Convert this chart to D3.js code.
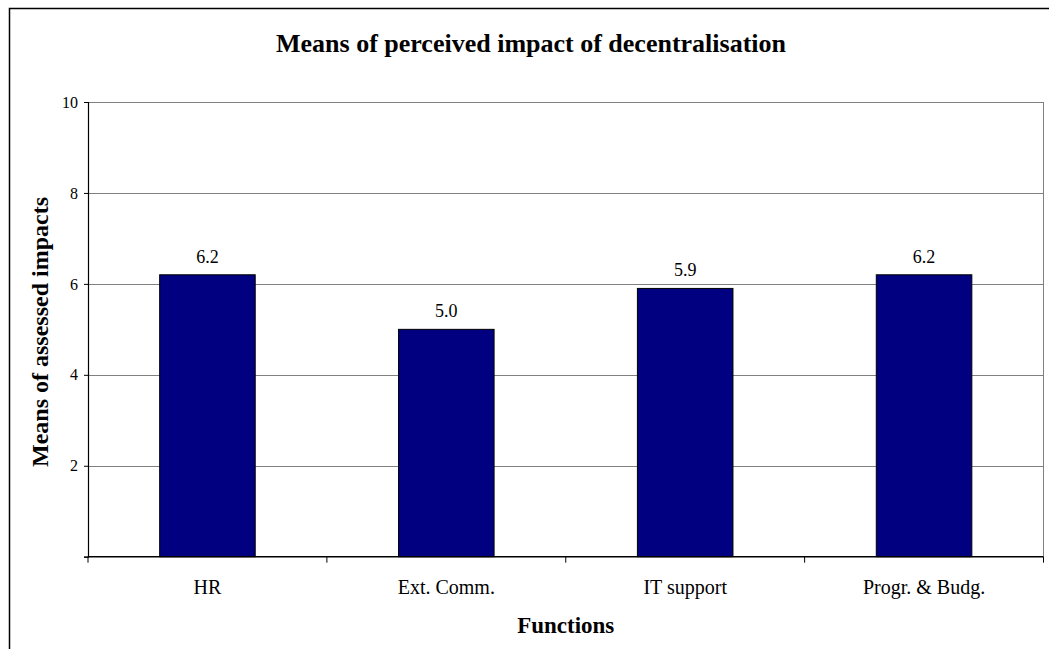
<!DOCTYPE html>
<html>
<head>
<meta charset="utf-8">
<script src="https://cdn.jsdelivr.net/npm/d3@7"></script>
<style>
  html, body { margin: 0; padding: 0; background: #fff; }
  svg { display: block; }
</style>
</head>
<body>
<svg id="chart" width="1049" height="649"></svg>
<script>
// Functions assessed and their mean perceived impact scores
const categories = ["HR", "Ext. Comm.", "IT support", "Progr. & Budg."];
const means = [6.2, 5.0, 5.9, 6.2];
const yTicks = [0, 2, 4, 6, 8, 10];

const FONT = "'Liberation Serif', 'Times New Roman', serif";
const svg = d3.select("#chart");
const W = 1049, H = 649;
const plot = { left: 88, right: 1043.5, top: 102, bottom: 556.7 };

// Outer chart frame (runs past the visible page on right and bottom)
svg.append("rect")
  .attr("x", 9.5).attr("y", 8.5)
  .attr("width", W + 20).attr("height", H + 40)
  .attr("fill", "#fff").attr("stroke", "#000").attr("stroke-width", 1.5);

const x = d3.scaleBand()
  .domain(categories)
  .range([plot.left, plot.right])
  .paddingInner(0.6).paddingOuter(0.3);

const xCat = d3.scaleBand()
  .domain(categories)
  .range([plot.left, plot.right]);

const y = d3.scaleLinear().domain([0, 10]).range([plot.bottom, plot.top]);

// Horizontal gridlines
svg.append("g")
  .selectAll("line")
  .data(yTicks.filter(d => d > 0))
  .join("line")
  .attr("x1", plot.left).attr("x2", plot.right)
  .attr("y1", d => Math.round(y(d)) + 0.5).attr("y2", d => Math.round(y(d)) + 0.5)
  .attr("stroke", "#808080").attr("stroke-width", 1);

// Right edge of plot area
svg.append("line")
  .attr("x1", plot.right).attr("x2", plot.right)
  .attr("y1", plot.top).attr("y2", plot.bottom)
  .attr("stroke", "#808080").attr("stroke-width", 1);

// Bars
svg.append("g")
  .selectAll("rect")
  .data(categories.map((c, i) => ({ c, v: means[i] })))
  .join("rect")
  .attr("x", d => x(d.c))
  .attr("y", d => y(d.v))
  .attr("width", x.bandwidth())
  .attr("height", d => y(0) - y(d.v))
  .attr("fill", "#000080")
  .attr("stroke", "#000").attr("stroke-width", 1);

// Value labels above bars
svg.append("g")
  .selectAll("text")
  .data(categories.map((c, i) => ({ c, v: means[i] })))
  .join("text")
  .attr("x", d => x(d.c) + x.bandwidth() / 2)
  .attr("y", d => y(d.v) - 12)
  .attr("text-anchor", "middle")
  .style("font-family", FONT)
  .style("font-size", "18px")
  .text(d => d3.format(".1f")(d.v));

// Y axis
const yAxis = d3.axisLeft(y)
  .tickValues(yTicks)
  .tickSize(4)
  .tickPadding(6)
  .tickFormat(d => d === 0 ? "" : d);
const gy = svg.append("g")
  .attr("transform", `translate(${plot.left},0)`)
  .call(yAxis);
gy.select(".domain").attr("stroke", "#000").attr("stroke-width", 1.2);
gy.selectAll(".tick line").attr("stroke", "#000");
gy.selectAll(".tick text")
  .attr("fill", "#000")
  .style("font-family", FONT)
  .style("font-size", "16px");

// X axis with ticks at category boundaries
const gx = svg.append("g")
  .attr("transform", `translate(0,${plot.bottom})`);
gx.append("line")
  .attr("x1", plot.left).attr("x2", plot.right)
  .attr("stroke", "#000").attr("stroke-width", 1.5);
const bounds = categories.map(c => xCat(c)).concat([plot.right]);
gx.selectAll("line.tick")
  .data(bounds)
  .join("line")
  .attr("class", "tick")
  .attr("x1", d => d).attr("x2", d => d)
  .attr("y1", 0).attr("y2", 6)
  .attr("stroke", "#000");
gx.selectAll("text")
  .data(categories)
  .join("text")
  .attr("x", d => xCat(d) + xCat.bandwidth() / 2)
  .attr("y", 37)
  .attr("text-anchor", "middle")
  .style("font-family", FONT)
  .style("font-size", "20px")
  .text(d => d);

// Titles
svg.append("text")
  .attr("x", 531).attr("y", 52)
  .attr("text-anchor", "middle")
  .style("font-family", FONT)
  .style("font-size", "26px").style("font-weight", "bold")
  .text("Means of perceived impact of decentralisation");

svg.append("text")
  .attr("transform", "translate(48,332) rotate(-90)")
  .attr("text-anchor", "middle")
  .style("font-family", FONT)
  .style("font-size", "24px").style("font-weight", "bold")
  .text("Means of assessed impacts");

svg.append("text")
  .attr("x", (plot.left + plot.right) / 2).attr("y", 633)
  .attr("text-anchor", "middle")
  .style("font-family", FONT)
  .style("font-size", "23px").style("font-weight", "bold")
  .text("Functions");
</script>
</body>
</html>
